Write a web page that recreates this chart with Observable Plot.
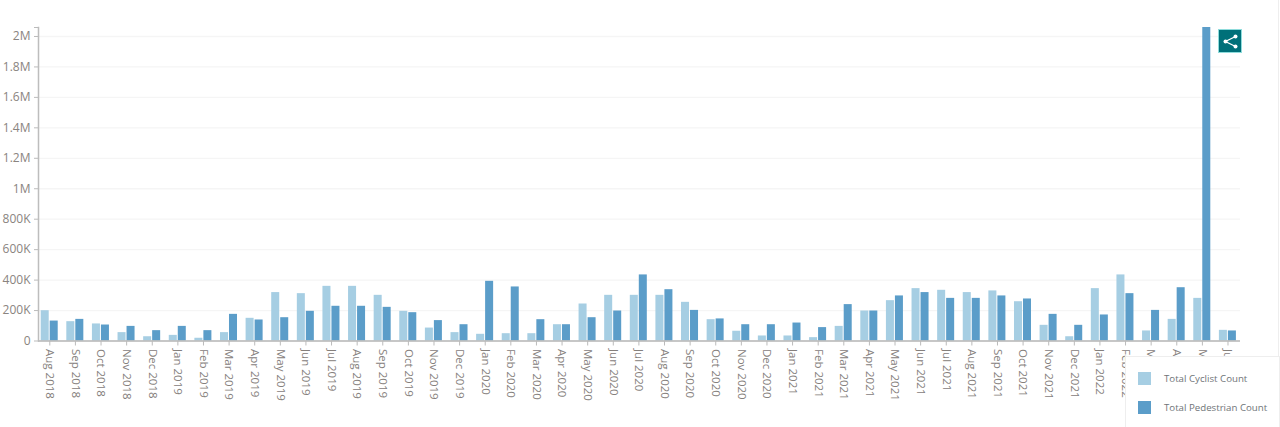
<!DOCTYPE html>
<html><head><meta charset="utf-8">
<script src="https://cdn.jsdelivr.net/npm/d3@7"></script>
<script src="https://cdn.jsdelivr.net/npm/@observablehq/plot@0.6"></script>
<style>
html,body{margin:0;padding:0;background:#fff;overflow:hidden;width:1280px;height:427px}
#wrap{position:relative;width:1280px;height:427px;font-family:"Open Sans",sans-serif}
#wrap svg.plot{display:block}
#edge{position:absolute;left:1278px;top:0;width:1px;height:427px;background:#eee}
#legend{position:absolute;left:1125px;top:356px;width:153px;height:71px;background:#fff;border:1px solid #eee;border-bottom:none;box-sizing:content-box}
.row{position:absolute;left:12px;font-size:9.7px;color:#6f7478;line-height:13px;white-space:nowrap}
.sw{display:inline-block;width:13px;height:13px;margin-right:13px;vertical-align:top}
#share{position:absolute;left:1218px;top:29px;width:24px;height:24px;box-sizing:border-box;background:#007079;border:1px solid #8fdcdc}
#share svg{position:absolute;left:-1px;top:-1px}
</style></head><body>
<div id="wrap"></div>
<script>
const months = ["Aug 2018","Sep 2018","Oct 2018","Nov 2018","Dec 2018","Jan 2019","Feb 2019","Mar 2019","Apr 2019","May 2019","Jun 2019","Jul 2019","Aug 2019","Sep 2019","Oct 2019","Nov 2019","Dec 2019","Jan 2020","Feb 2020","Mar 2020","Apr 2020","May 2020","Jun 2020","Jul 2020","Aug 2020","Sep 2020","Oct 2020","Nov 2020","Dec 2020","Jan 2021","Feb 2021","Mar 2021","Apr 2021","May 2021","Jun 2021","Jul 2021","Aug 2021","Sep 2021","Oct 2021","Nov 2021","Dec 2021","Jan 2022","Feb 2022","Mar 2022","Apr 2022","May 2022","Jun 2022"];
const cyclist = [199000,127000,112000,55000,28000,37000,18000,55000,149000,318000,311000,359000,359000,300000,195000,85000,55000,44000,48000,48000,107000,243000,300000,300000,300000,254000,140000,64000,33000,33000,22000,96000,197000,265000,344000,333000,318000,329000,258000,103000,28000,344000,434000,66000,142000,280000,70000];
const pedestrian = [131000,142000,105000,96000,68000,96000,68000,175000,138000,153000,195000,228000,228000,221000,186000,134000,107000,392000,355000,140000,107000,153000,197000,434000,337000,201000,145000,107000,107000,118000,88000,239000,197000,296000,318000,280000,280000,296000,276000,175000,103000,171000,311000,201000,350000,2059000,66000];
const yTicks = [0,200000,400000,600000,800000,1000000,1200000,1400000,1600000,1800000,2000000];
const yMax = 2059000;
const cyclistColor = "#a6cee3", pedestrianColor = "#5b9dc9";
const seriesNames = ["Total Cyclist Count","Total Pedestrian Count"];
const table = months.map((m,i)=>({month:m,cyc:cyclist[i],ped:pedestrian[i]}));
const fmt = v => v===yMax ? "" : v===0 ? "0" : v>=1e6 ? (v/1e6)+"M" : (v/1e3)+"K";
const chart = Plot.plot({
  width:1280,height:427,marginTop:27,marginBottom:86.5,marginLeft:38,marginRight:40,
  style:{fontFamily:'"Open Sans",sans-serif',background:"#fff",overflow:"visible"},
  x:{domain:months,range:[36.5,1240.3],padding:0,round:false,label:null},
  y:{domain:[0,yMax],range:[340.5,27],label:null},
  marks:[
    Plot.gridY(yTicks.slice(1),{stroke:"#f5f5f5",strokeOpacity:1,strokeWidth:1.3}),
    Plot.barY(table,{x:"month",y:"cyc",fill:cyclistColor,insetLeft:4.2,insetRight:13.4}),
    Plot.barY(table,{x:"month",y:"ped",fill:pedestrianColor,insetLeft:13.2,insetRight:4.4}),
    Plot.ruleY([0],{stroke:"#b4b4b4",strokeWidth:1.3}),
    Plot.frame({anchor:"left",stroke:"#bdbdbd",strokeWidth:1.5}),
    Plot.axisY({ticks:[...yTicks,yMax],tickFormat:fmt,tickSize:4,tickPadding:4,stroke:"#bbb",fontSize:12,fill:"#8a8480",label:null}),
    Plot.axisX({tickRotate:90,tickSize:5,tickPadding:3,stroke:"#bbb",fontSize:11.5,fill:"#85807c",label:null})
  ]
});
const wrap = document.getElementById("wrap");
wrap.appendChild(chart);
wrap.insertAdjacentHTML("beforeend",`<div id="edge"></div><div id="share"><svg width="24" height="24" viewBox="0 0 24 24"><g fill="#fff" stroke="#fff"><path d="M17.5 7.5 L7.5 12.5 L17.5 17.5" fill="none" stroke-width="1.3"/><circle cx="17.5" cy="7.5" r="2" stroke="none"/><circle cx="7.5" cy="12.5" r="2" stroke="none"/><circle cx="17.5" cy="17.5" r="2" stroke="none"/></g></svg></div>
<div id="legend"><div class="row" style="top:15px"><span class="sw" style="background:${cyclistColor}"></span>${seriesNames[0]}</div><div class="row" style="top:44px"><span class="sw" style="background:${pedestrianColor}"></span>${seriesNames[1]}</div></div>`);
</script></body></html>
